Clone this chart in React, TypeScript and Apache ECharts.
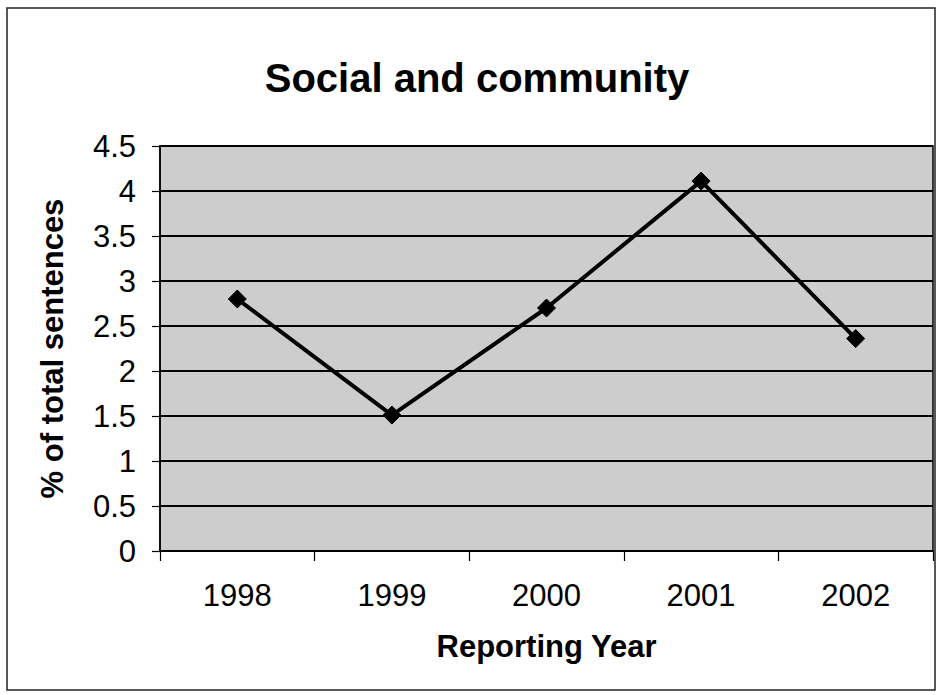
import React, { useEffect, useRef } from "react";
import * as echarts from "echarts";

// Reporting years and share of sentences on social and community topics
const years = ["1998", "1999", "2000", "2001", "2002"];
const percentOfSentences = [2.8, 1.51, 2.7, 4.11, 2.36];

const chartTitle = "Social and community";
const xAxisTitle = "Reporting Year";
const yAxisTitle = "% of total sentences";

const FONT = "'Liberation Sans', Arial, Helvetica, sans-serif";

export default function App() {
  const ref = useRef<HTMLDivElement | null>(null);

  useEffect(() => {
    if (!ref.current) return;
    const chart = echarts.init(ref.current, undefined, { renderer: "svg" });
    chart.setOption({
      animation: false,
      backgroundColor: "#ffffff",
      textStyle: { fontFamily: FONT },
      title: {
        text: chartTitle,
        left: 472,
        textAlign: "center",
        top: 53,
        textStyle: {
          fontFamily: FONT,
          fontSize: 40,
          fontWeight: "bold",
          color: "#000",
        },
      },
      graphic: [
        {
          type: "rect",
          shape: { x: 7, y: 8, width: 928, height: 682 },
          style: { fill: "none", stroke: "#222", lineWidth: 1.5 },
          silent: true,
          z: 100,
        },
      ],
      grid: {
        left: 160,
        top: 146,
        right: 6,
        bottom: 144,
        show: true,
        backgroundColor: "#cdcdcd",
        borderColor: "#000",
        borderWidth: 1.5,
      },
      xAxis: {
        type: "category",
        data: years,
        boundaryGap: true,
        name: xAxisTitle,
        nameLocation: "middle",
        nameGap: 80,
        nameTextStyle: {
          fontFamily: FONT,
          fontSize: 31,
          fontWeight: "bold",
          color: "#000",
        },
        axisLine: { show: true, lineStyle: { color: "#000", width: 1.5 } },
        axisTick: {
          show: true,
          length: 10,
          alignWithLabel: false,
          lineStyle: { color: "#000", width: 1.2 },
        },
        axisLabel: {
          fontFamily: FONT,
          fontSize: 31,
          color: "#000",
          margin: 29,
        },
        splitLine: { show: false },
      },
      yAxis: {
        type: "value",
        min: 0,
        max: 4.5,
        interval: 0.5,
        name: yAxisTitle,
        nameLocation: "middle",
        nameRotate: 90,
        nameGap: 92,
        nameTextStyle: {
          fontFamily: FONT,
          fontSize: 31,
          fontWeight: "bold",
          color: "#000",
        },
        axisLine: { show: true, lineStyle: { color: "#000", width: 1.5 } },
        axisTick: {
          show: true,
          length: 8,
          lineStyle: { color: "#000", width: 1.2 },
        },
        axisLabel: {
          fontFamily: FONT,
          fontSize: 31,
          color: "#000",
          margin: 24,
        },
        splitLine: { show: true, lineStyle: { color: "#000", width: 1.8 } },
      },
      series: [
        {
          type: "line",
          data: percentOfSentences,
          symbol: "diamond",
          symbolSize: 18,
          showSymbol: true,
          lineStyle: { color: "#000", width: 4 },
          itemStyle: { color: "#000", borderColor: "#000" },
          z: 5,
        },
      ],
    });
    return () => chart.dispose();
  }, []);

  return (
    <div
      ref={ref}
      style={{ position: "absolute", left: 0, top: 0, width: 939, height: 695 }}
    />
  );
}
